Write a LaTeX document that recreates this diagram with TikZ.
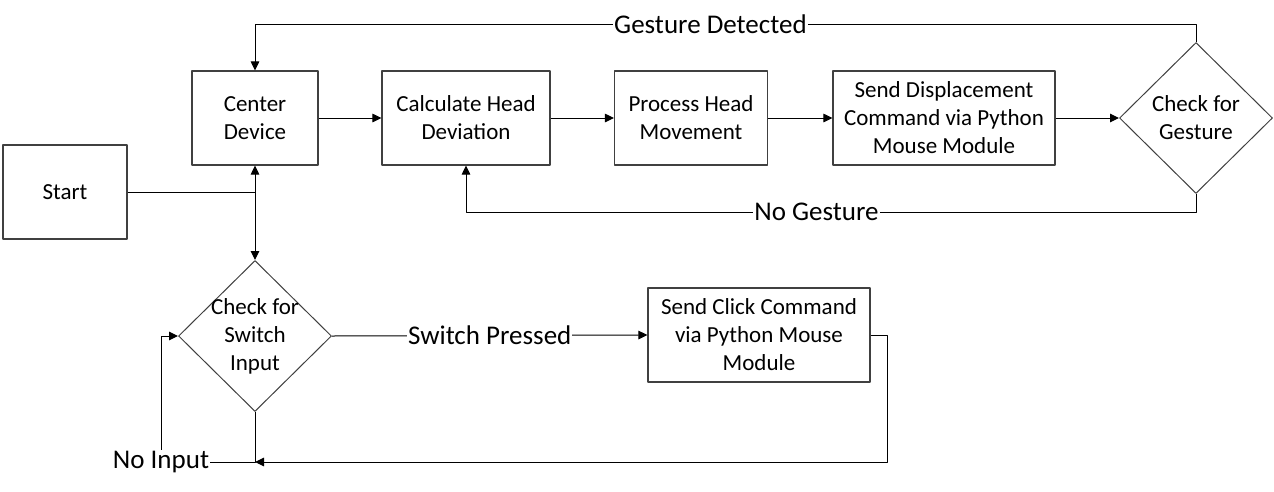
\documentclass[tikz,border=0pt]{standalone}
\usepackage{fontspec}
\setmainfont{Carlito}
\usetikzlibrary{shapes.geometric,arrows.meta}

\tikzset{
  box/.style={draw=black!75, line width=1.1pt, inner sep=2pt, align=center,
    minimum height=94pt, font=\fontsize{23}{28}\selectfont},
  decision/.style={diamond, draw=black!75, line width=1pt, inner sep=0pt,
    minimum width=153pt, minimum height=151pt},
  dtext/.style={align=center, font=\fontsize{23}{28}\selectfont},
  lbl/.style={fill=white, inner sep=1pt, font=\fontsize{27}{32}\selectfont},
  arr/.style={-{Triangle[length=9pt,width=8.5pt]}},
  line/.style={line width=1pt}
}

\begin{document}
\begin{tikzpicture}[x=1pt, y=-1pt, line join=round]

\useasboundingbox (0,0) rectangle (1274,491);

% boxes
\node[box, minimum width=124pt] (start) at (65,192) {Start};
\node[box, minimum width=126pt] (ctr) at (255,118) {Center\\Device};
\node[box, minimum width=168pt] (calc) at (466,118) {Calculate Head\\Deviation};
\node[box, minimum width=153pt] (proc) at (691,118) {Process Head\\Movement};
\node[box, minimum width=222pt] (disp) at (944,118) {Send Displacement\\Command via Python\\Mouse Module};
\node[box, minimum width=222pt] (click) at (759,335) {Send Click Command\\via Python Mouse\\Module};

% decisions
\node[decision, label={[dtext]center:Check for\\Gesture}] (gest) at (1196,118) {};
\node[decision, label={[dtext]center:Check for\\Switch\\Input}] (sw) at (255,336) {};

% main chain
\draw[line, arr] (ctr.east) -- (calc.west);
\draw[line, arr] (calc.east) -- (proc.west);
\draw[line, arr] (proc.east) -- (disp.west);
\draw[line, arr] (disp.east) -- (gest.west);

% gesture loops
\draw[line, arr] (gest.north) -- (gest.north |- 0,24) -| node[lbl, pos=0.258] {Gesture Detected} (ctr.north);
\draw[line, arr] (gest.south) -- (gest.south |- 0,212) -| node[lbl, pos=0.26] {No Gesture} (calc.south);

% start
\draw[line] (start.east) -- (start.east -| ctr.south) coordinate (jn);
\draw[line, arr] (jn) -- (ctr.south);
\draw[line, arr] (jn) -- (sw.north);

% switch
\draw[line, arr] (sw.east) -- node[lbl] {Switch Pressed} (click.west);
\coordinate (ni) at (161,462);
\draw[line, arr] (click.east) -- ++(17,0) |- (sw.south |- ni);
\draw[line, arr] (sw.south) |- (ni) |- (sw.west);
\node[lbl] (noin) at (ni) {No Input};

\end{tikzpicture}
\end{document}
